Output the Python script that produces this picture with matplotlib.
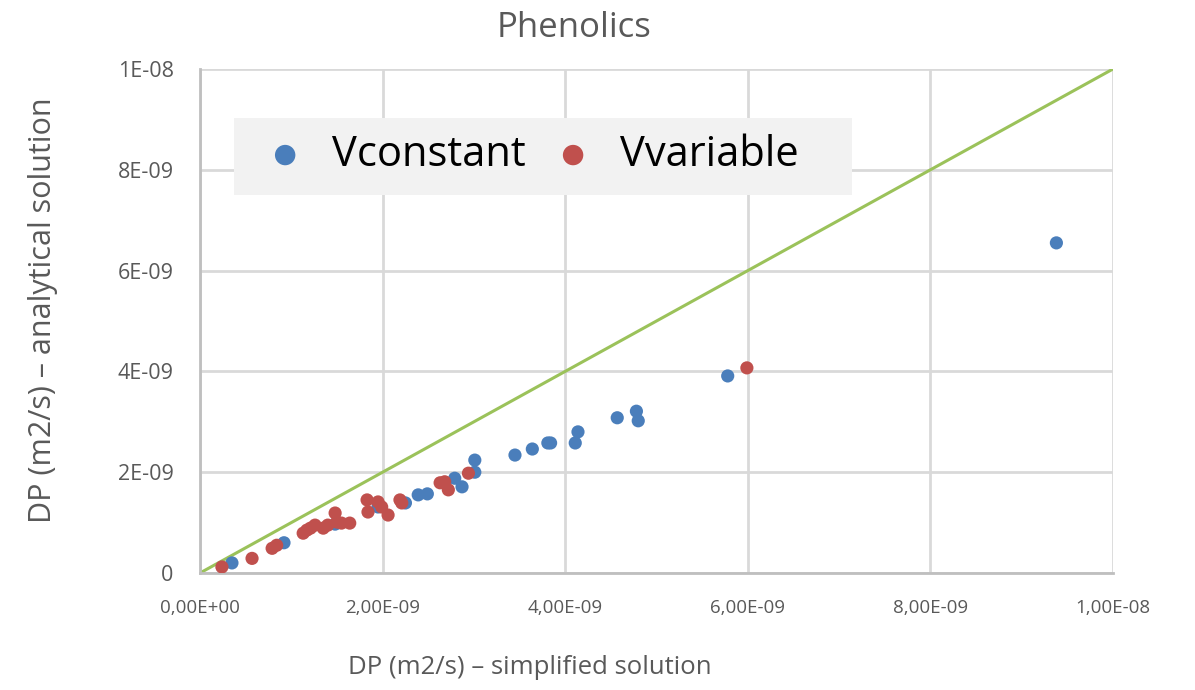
import numpy as np
import matplotlib
matplotlib.use('Agg')
import matplotlib.pyplot as plt
from matplotlib.ticker import FixedLocator
from matplotlib.patches import Rectangle

plt.rcParams['font.family'] = ['Open Sans', 'DejaVu Sans']

# values in units of 1e-9 m2/s
vconst_x = [0.35, 0.92, 1.48, 1.95, 2.25, 2.39, 2.49, 2.79, 2.87, 3.01, 3.01, 3.45,
            3.64, 3.81, 3.84, 4.11, 4.14, 4.57, 4.78, 4.80, 5.78, 9.38]
vconst_y = [0.20, 0.60, 0.97, 1.31, 1.39, 1.55, 1.57, 1.88, 1.71, 2.24, 2.00, 2.34,
            2.46, 2.58, 2.58, 2.58, 2.80, 3.08, 3.21, 3.02, 3.91, 6.55]

vvar_x = [0.24, 0.57, 0.79, 0.84, 1.13, 1.17, 1.21, 1.26, 1.35, 1.40, 1.48, 1.50,
          1.55, 1.64, 1.83, 1.84, 1.95, 1.99, 2.06, 2.19, 2.21, 2.63, 2.68, 2.72,
          2.94, 5.99]
vvar_y = [0.12, 0.29, 0.49, 0.55, 0.79, 0.85, 0.89, 0.95, 0.89, 0.95, 1.19, 1.01,
          0.99, 0.99, 1.45, 1.21, 1.41, 1.31, 1.15, 1.45, 1.39, 1.79, 1.81, 1.65,
          1.98, 4.07]

x_ticks = [0, 2e-9, 4e-9, 6e-9, 8e-9, 1e-8]
x_labels = ['0,00E+00', '2,00E-09', '4,00E-09', '6,00E-09', '8,00E-09', '1,00E-08']
y_ticks = [0, 2e-9, 4e-9, 6e-9, 8e-9, 1e-8]
y_labels = ['0', '2E-09', '4E-09', '6E-09', '8E-09', '1E-08']

grey = '#595959'
blue = '#4a7ebb'
red = '#c0504d'

fig = plt.figure(figsize=(11.95, 6.9), dpi=100)
ax = fig.add_axes([200/1195, (690-573)/690, (1113-200)/1195, (573-69)/690])

vx = np.array(vconst_x) * 1e-9
vy = np.array(vconst_y) * 1e-9
rx = np.array(vvar_x) * 1e-9
ry = np.array(vvar_y) * 1e-9

ax.plot([0, 1e-8], [0, 1e-8], color='#9bc25a', lw=2.2, zorder=2)
ax.scatter(vx, vy, s=90, color=blue, edgecolors='none', zorder=3, label='Vconstant')
ax.scatter(rx, ry, s=90, color=red, edgecolors='none', zorder=4, label='Vvariable')

ax.set_xlim(0, 1e-8)
ax.set_ylim(0, 1e-8)
ax.xaxis.set_major_locator(FixedLocator(x_ticks))
ax.yaxis.set_major_locator(FixedLocator(y_ticks))
ax.set_xticklabels(x_labels)
ax.set_yticklabels(y_labels)
ax.tick_params(length=0, colors=grey)
ax.tick_params(axis='y', pad=19, labelsize=15.5)
ax.tick_params(axis='x', pad=19, labelsize=13.5)

ax.grid(True, color='#d9d9d9', lw=2)
ax.set_axisbelow(True)
for s in ['top', 'right']:
    ax.spines[s].set_visible(False)
ax.spines['left'].set_color('#bfbfbf')
ax.spines['bottom'].set_color('#bfbfbf')
ax.spines['left'].set_linewidth(2)
ax.spines['bottom'].set_linewidth(2)

fig.text(574/1195, 1 - 28/690, 'Phenolics', fontsize=25, color=grey,
         ha='center', va='center')
fig.text(530/1195, 1 - 668/690, 'DP (m2/s) \u2013 simplified solution', fontsize=18.5,
         color=grey, ha='center', va='center')
fig.text(43/1195, 1 - 310/690, 'DP (m2/s) \u2013 analytical solution', fontsize=22,
         color=grey, ha='center', va='center', rotation=90)

# legend panel, wider than its content as in the source
ax.add_patch(Rectangle((34/913, (573-195)/504), (852-234)/913, 77/504,
                       transform=ax.transAxes, facecolor='#f2f2f2',
                       edgecolor='none', zorder=5))
leg = ax.legend(loc='center left', bbox_to_anchor=(56/913, (573-155)/504), ncol=2,
                fontsize=30, frameon=False, markerscale=1.55,
                handletextpad=0.43, columnspacing=0.43, borderpad=0,
                handlelength=1.4, borderaxespad=0)
leg.set_zorder(6)
for t in leg.get_texts():
    t.set_color('black')

fig.savefig('out.png', dpi=100)
